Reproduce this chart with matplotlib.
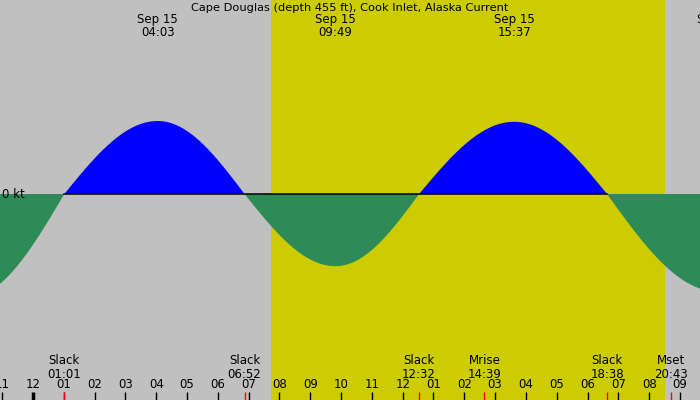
import numpy as np
import matplotlib
matplotlib.use("Agg")
import matplotlib.pyplot as plt

matplotlib.rcParams.update({
    "font.family": "DejaVu Sans",
    "font.size": 8.5,
})

TITLE = "Cape Douglas (depth 455 ft), Cook Inlet, Alaska Current"

# hours after midnight, Sep 15 (negative = previous day)
SLACK_TIMES = [1.017, 6.867, 12.533, 18.633]
SLACK_LABELS = ["01:01", "06:52", "12:32", "18:38"]
MAX_TIMES = [-2.1, 4.05, 9.817, 15.617, 22.2]
MAX_SPEEDS = [-2.55, 1.80, -1.78, 1.78, -2.40]   # knots, + flood / - ebb
MAX_LABELS = ["21:54", "04:03", "09:49", "15:37", "22:12"]

MOON_TIMES = [14.65, 20.717]
MOON_NAMES = ["Mrise", "Mset"]
MOON_LABELS = ["14:39", "20:43"]

SUNRISE = 7.72
SUNSET = 20.51

HOUR_TICKS = list(range(-1, 22))
X_MIN, X_MAX = -1.07, 21.65
PX_PER_KT = 73 / 1.8

BG = "#c0c0c0"
DAY = "#cccc00"
FLOOD_C = "#0000ff"
EBB_C = "#2e8b57"


def current(t):
    """Quarter-sine segments between slack and max events."""
    ev_t = np.array(sorted(SLACK_TIMES + MAX_TIMES))
    speeds = dict(zip(MAX_TIMES, MAX_SPEEDS))
    v = np.zeros_like(t)
    for a, b in zip(ev_t[:-1], ev_t[1:]):
        m = (t >= a) & (t <= b)
        f = (t[m] - a) / (b - a)
        if a in speeds:          # max -> slack
            v[m] = speeds[a] * np.cos(np.pi / 2 * f)
        else:                    # slack -> max
            v[m] = speeds[b] * np.sin(np.pi / 2 * f)
    return v


fig = plt.figure(figsize=(7, 4), dpi=100)
fig.patch.set_facecolor(BG)
ax = fig.add_axes([0, 0, 1, 1])
ax.set_facecolor(BG)
ax.set_xlim(X_MIN, X_MAX)
ax.set_ylim(-206 / PX_PER_KT, 194 / PX_PER_KT)
ax.axis("off")

ax.axvspan(SUNRISE, SUNSET, color=DAY, lw=0, zorder=0)

t = np.linspace(X_MIN, X_MAX, 1500)
v = current(t)
ax.fill_between(t, 0, v, where=v >= 0, color=FLOOD_C, lw=0, interpolate=True, zorder=2)
ax.fill_between(t, 0, v, where=v <= 0, color=EBB_C, lw=0, interpolate=True, zorder=2)
ax.plot([SLACK_TIMES[0], SLACK_TIMES[-1]], [0, 0], color="black", lw=1.1, zorder=3)

ax.text(X_MIN + 0.07, 0, "0 kt", ha="left", va="center", zorder=4)

xt = ax.get_xaxis_transform()
ax.text(0.5, 0.981, TITLE, transform=ax.transAxes, ha="center", va="center", fontsize=8.2)
for tm, lab in zip(MAX_TIMES, MAX_LABELS):
    if tm < X_MIN:
        continue
    ax.text(tm, 0.952, "Sep 15", transform=xt, ha="center", va="center")
    ax.text(tm, 0.92, lab, transform=xt, ha="center", va="center")

# hour ticks
for h in HOUR_TICKS:
    lab = f"{(h % 12) or 12:02d}" if h % 12 else "12"
    ax.text(h, 0.0375, lab, transform=xt, ha="center", va="center")
    ax.plot([h, h], [0, 0.02], transform=xt, color="black",
            lw=2.5 if h == 0 else 1, solid_capstyle="butt")

for tm, lab in zip(SLACK_TIMES, SLACK_LABELS):
    ax.text(tm, 0.0975, "Slack", transform=xt, ha="center", va="center")
    ax.text(tm, 0.065, lab, transform=xt, ha="center", va="center")
    ax.plot([tm, tm], [0, 0.02], transform=xt, color="red", lw=1, solid_capstyle="butt")
for tm, name, lab in zip(MOON_TIMES, MOON_NAMES, MOON_LABELS):
    ax.text(tm, 0.0975, name, transform=xt, ha="center", va="center")
    ax.text(tm, 0.065, lab, transform=xt, ha="center", va="center")
    ax.plot([tm, tm], [0, 0.02], transform=xt, color="red", lw=1, solid_capstyle="butt")

fig.savefig("out.png", dpi=100, facecolor=BG)
